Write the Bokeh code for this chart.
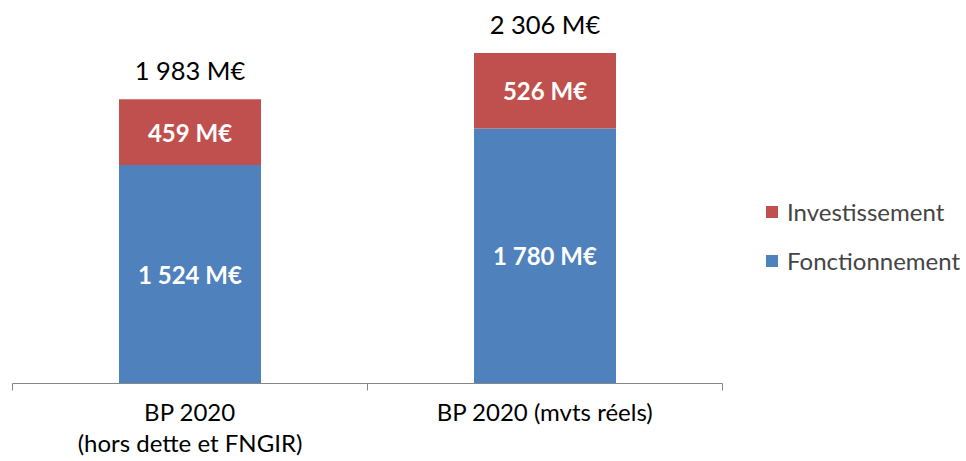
from bokeh.plotting import figure
from bokeh.models import Range1d, FixedTicker, Legend, LegendItem, ColumnDataSource
from bokeh.core.properties import value
from bokeh.embed import file_html
from bokeh.resources import INLINE

categories = ["BP 2020\n(hors dette et FNGIR)", "BP 2020 (mvts réels)"]
fonctionnement = [1524, 1780]
investissement = [459, 526]
series_names = ["Fonctionnement", "Investissement"]
colors = ["#4F81BD", "#C0504D"]

FONT = "Lato"


def fmt(v):
    return f"{v:,}".replace(",", " ") + " M€"


x = [i + 0.5 for i in range(len(categories))]
total = [f + i for f, i in zip(fonctionnement, investissement)]

src = ColumnDataSource(dict(
    x=x,
    fon=fonctionnement,
    inv=investissement,
    fon_mid=[f / 2 for f in fonctionnement],
    inv_mid=[f + i / 2 for f, i in zip(fonctionnement, investissement)],
    fon_lbl=[fmt(v) for v in fonctionnement],
    inv_lbl=[fmt(v) for v in investissement],
    total=total,
    total_lbl=[fmt(v) for v in total],
))

n = len(categories)
p = figure(width=966, height=461,
           x_range=Range1d(0, n * 954 / 710), y_range=Range1d(0, 2617),
           output_backend="svg", toolbar_location=None,
           y_axis_location=None,
           min_border_left=12, min_border_right=0,
           min_border_top=8, min_border_bottom=78)
p.outline_line_color = None
p.xgrid.grid_line_color = None
p.ygrid.grid_line_color = None

rs = p.vbar_stack(["fon", "inv"], x="x", width=0.4, color=colors,
                  line_color=None, source=src)

ax = p.xaxis[0]
ax.ticker = FixedTicker(ticks=x, minor_ticks=list(range(n + 1)))
ax.major_label_overrides = {xi: c for xi, c in zip(x, categories)}
ax.bounds = (0, n)
ax.axis_line_color = "#868686"
ax.major_tick_line_color = None
ax.minor_tick_line_color = "#868686"
ax.minor_tick_in = 0
ax.minor_tick_out = 7
ax.major_label_standoff = 6
ax.major_label_text_font = FONT
ax.major_label_text_font_size = "24px"
ax.major_label_text_color = "black"
ax.major_label_text_line_height = 1.1

common = dict(text_align="center", text_baseline="middle",
              text_font=value(FONT))
p.text(x="x", y="fon_mid", text="fon_lbl", text_color="white",
       text_font_style="bold", text_font_size="24px", source=src, **common)
p.text(x="x", y="inv_mid", text="inv_lbl", text_color="white",
       text_font_style="bold", text_font_size="24px", source=src, **common)
p.text(x="x", y="total", text="total_lbl", text_color="black",
       text_font_size="25.5px", y_offset=-29, source=src, **common)

legend = Legend(items=[LegendItem(label=series_names[1], renderers=[rs[1]]),
                       LegendItem(label=series_names[0], renderers=[rs[0]])],
                location=(752, 108), border_line_color=None,
                background_fill_alpha=0, padding=0, margin=0, spacing=20,
                glyph_width=15, glyph_height=15, label_standoff=8,
                label_text_font=FONT, label_text_font_size="24px",
                label_height=28)
p.add_layout(legend)

open("out.html", "w").write(file_html(p, INLINE))
